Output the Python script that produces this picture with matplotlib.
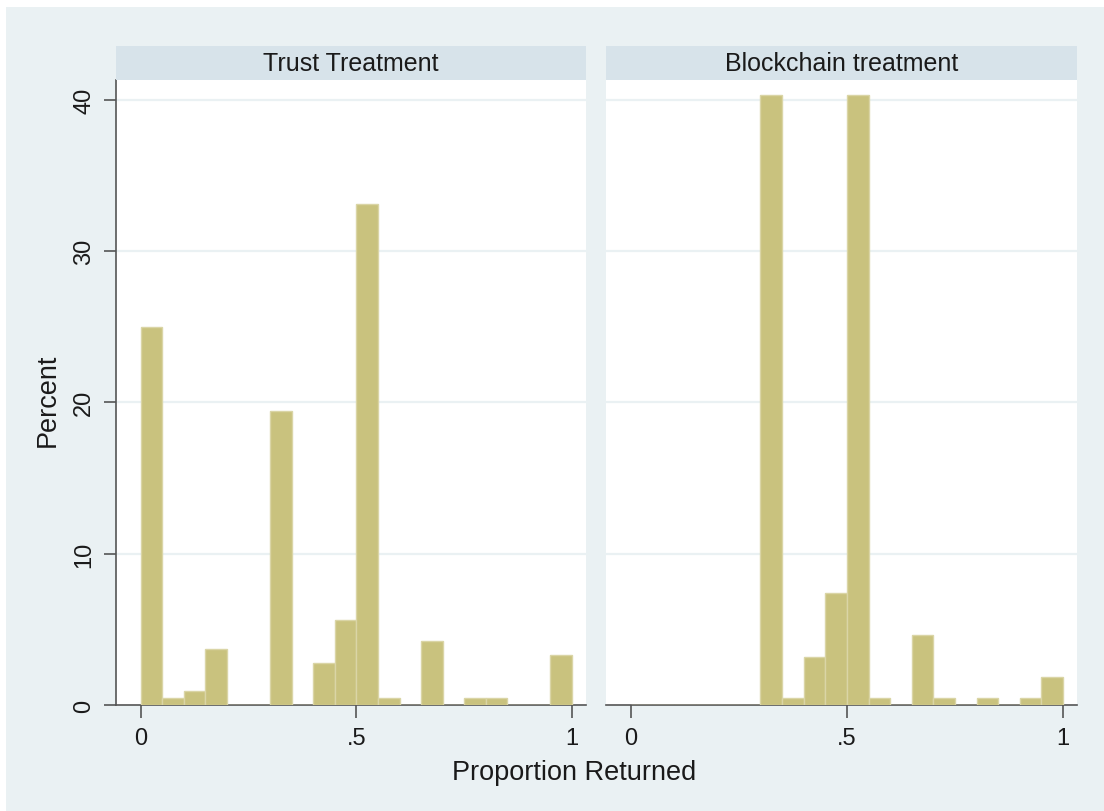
import numpy as np
import matplotlib.pyplot as plt
from matplotlib.patches import Rectangle

plt.rcParams['font.family'] = ['Liberation Sans', 'DejaVu Sans']

# histogram bins (width 0.05) and percent of observations per bin
bin_start = [0.00, 0.05, 0.10, 0.15, 0.20, 0.25, 0.30, 0.35, 0.40, 0.45,
             0.50, 0.55, 0.60, 0.65, 0.70, 0.75, 0.80, 0.85, 0.90, 0.95]
trust_pct = [25.0, 0.46, 0.93, 3.7, 0, 0, 19.4, 0, 2.8, 5.6,
             33.1, 0.46, 0, 4.2, 0, 0.46, 0.46, 0, 0, 3.3]
chain_pct = [0, 0, 0, 0, 0, 0, 40.3, 0.46, 3.2, 7.4,
             40.3, 0.46, 0, 4.6, 0.46, 0, 0.46, 0, 0.46, 1.85]

panel_titles = ['Trust Treatment', 'Blockchain treatment']
x_ticks = [0, 0.5, 1]
x_ticklabels = ['0', '.5', '1']
y_ticks = [0, 10, 20, 30, 40]

W, H = 1104, 812
BG = '#EAF1F3'
STRIP = '#D7E3EA'
BAR = '#C9C27E'
BAR_EDGE = '#DAD5A6'
AXIS = '#555555'
TEXT = '#1a1a1a'


def box(x0, y0, x1, y1):
    # pixel box (top-left origin) -> figure fraction rect
    return [x0 / W, 1 - y1 / H, (x1 - x0) / W, (y1 - y0) / H]


fig = plt.figure(figsize=(W / 100, H / 100), dpi=100, facecolor='white')
fig.patches.append(Rectangle((6 / W, 0), 1 - 6 / W, 1 - 8 / H,
                             transform=fig.transFigure, facecolor=BG,
                             edgecolor='none', zorder=-10))

panels = [(116, 586, trust_pct), (606, 1077, chain_pct)]
for i, (x0, x1, pct) in enumerate(panels):
    ax = fig.add_axes(box(x0, 81, x1, 706))
    ax.set_facecolor('white')
    ax.bar(bin_start, pct, width=0.05, align='edge', color=BAR,
           edgecolor=BAR_EDGE, linewidth=1.0, zorder=3)
    ax.set_xlim(-0.0575, 1.0325)
    ax.set_ylim(0, 41.3)

    for v in y_ticks[1:]:
        ax.axhline(v, color=BG, linewidth=1.6, zorder=1)

    for s in ax.spines.values():
        s.set_visible(False)
    ax.spines['bottom'].set_visible(True)
    ax.spines['bottom'].set_color(AXIS)
    ax.spines['bottom'].set_linewidth(1.2)

    ax.set_xticks(x_ticks)
    ax.set_xticklabels(x_ticklabels)
    ax.tick_params(axis='x', length=9, width=1.2, color=AXIS, pad=7,
                   labelsize=17, labelcolor=TEXT)

    if i == 0:
        ax.spines['left'].set_visible(True)
        ax.spines['left'].set_color(AXIS)
        ax.spines['left'].set_linewidth(1.2)
        ax.set_yticks(y_ticks)
        ax.set_yticklabels([str(v) for v in y_ticks], rotation=90, va='center')
        ax.tick_params(axis='y', length=9, width=1.2, color=AXIS, pad=6,
                       labelsize=17, labelcolor=TEXT)
    else:
        ax.set_yticks([])

    # panel header strip
    sax = fig.add_axes(box(x0, 47, x1, 81))
    sax.set_facecolor(STRIP)
    sax.set_xticks([])
    sax.set_yticks([])
    for s in sax.spines.values():
        s.set_visible(False)
    sax.text(0.5, 0.5, panel_titles[i], ha='center', va='center',
             fontsize=18, color=TEXT, transform=sax.transAxes)

fig.text(574 / W, 1 - 773 / H, 'Proportion Returned', ha='center',
         va='center', fontsize=19.5, color=TEXT)
fig.text(48 / W, 1 - 400 / H, 'Percent', ha='center', va='center',
         rotation=90, fontsize=19.5, color=TEXT)

fig.savefig('out.png', dpi=100, facecolor='white')
